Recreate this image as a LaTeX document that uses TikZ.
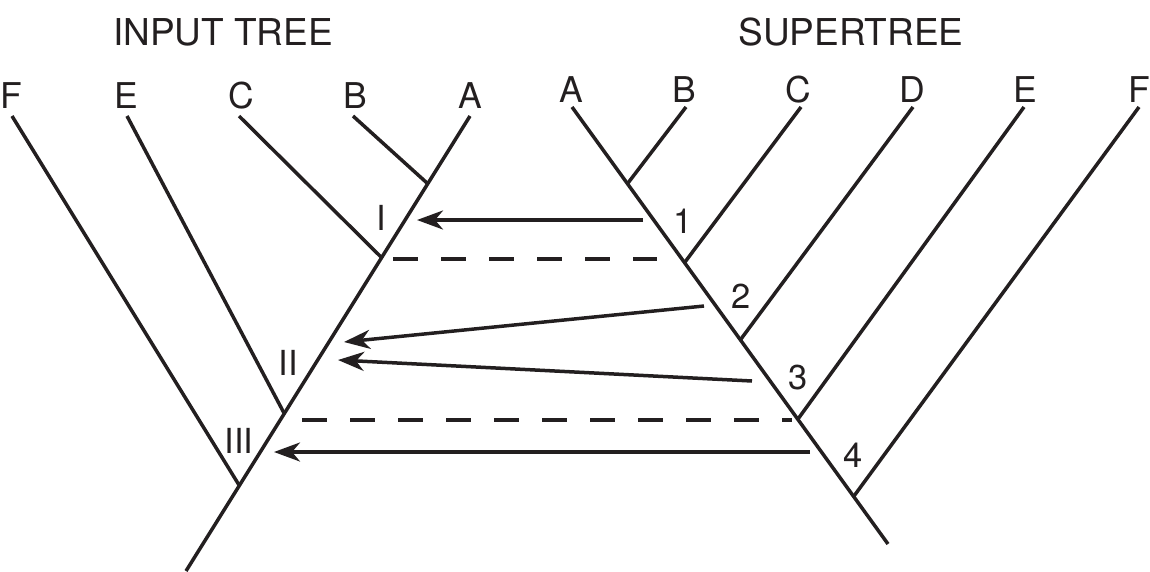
\documentclass[tikz,border=0pt]{standalone}
\usepackage{fontspec}
\setmainfont{TeX Gyre Heros}
\usetikzlibrary{arrows.meta}
\definecolor{ink}{HTML}{231F20}
\begin{document}
\begin{tikzpicture}[x=1pt,y=-1pt,
  branch/.style={line width=3.5pt, draw=ink},
  link/.style={line width=3.5pt, draw=ink, -{Stealth[length=26pt,width=19pt,inset=8pt]}},
  guide/.style={line width=3.5pt, draw=ink, dash pattern=on 25pt off 23pt},
  title/.style={anchor=base, inner sep=0pt, text=ink, font=\fontsize{37}{40}\selectfont},
  leaf/.style={anchor=base, inner sep=0pt, text=ink, font=\fontsize{35.5}{40}\selectfont},
  tag/.style={anchor=base, inner sep=0pt, text=ink, font=\fontsize{34.5}{40}\selectfont}]
\useasboundingbox (0,0) rectangle (1150,571);
% titles
\node[title] (t1) at (223,45) {INPUT TREE};
\node[title] (t2) at (851,45) {SUPERTREE};
% left tree
\coordinate (lroot) at (186,571);
\coordinate (lA) at (470,116);
\coordinate (lB) at (353,116);
\coordinate (lC) at (239,116);
\coordinate (lE) at (127,116);
\coordinate (lF) at (12,116);
\coordinate (ljB) at (427,183);
\coordinate (ljC) at (381,257);
\coordinate (ljE) at (284,413);
\coordinate (ljF) at (239,485);
\draw[branch] (lroot) -- (lA);
\draw[branch] (ljB) -- (lB);
\draw[branch] (ljC) -- (lC);
\draw[branch] (ljE) -- (lE);
\draw[branch] (ljF) -- (lF);
\node[leaf] (LA) at (470,108) {A};
\node[leaf] (LB) at (355,108) {B};
\node[leaf] (LC) at (241,108) {C};
\node[leaf] (LE) at (126,108) {E};
\node[leaf] (LF) at (11,108) {F};
% right tree
\coordinate (rroot) at (888,544);
\coordinate (rA) at (572,107);
\coordinate (rB) at (686,107);
\coordinate (rC) at (801,107);
\coordinate (rD) at (913,107);
\coordinate (rE) at (1024,107);
\coordinate (rF) at (1139,107);
\coordinate (rjB) at (628,183);
\coordinate (rjC) at (685,262);
\coordinate (rjD) at (741,339);
\coordinate (rjE) at (798,419);
\coordinate (rjF) at (854,496);
\draw[branch] (rroot) -- (rA);
\draw[branch] (rjB) -- (rB);
\draw[branch] (rjC) -- (rC);
\draw[branch] (rjD) -- (rD);
\draw[branch] (rjE) -- (rE);
\draw[branch] (rjF) -- (rF);
\node[leaf] (RA) at (571,102) {A};
\node[leaf] (RB) at (684,102) {B};
\node[leaf] (RC) at (798,102) {C};
\node[leaf] (RD) at (912,102) {D};
\node[leaf] (RE) at (1025,102) {E};
\node[leaf] (RF) at (1139,102) {F};
% node labels
\node[tag] (n1) at (683,233) {1};
\node[tag] (n2) at (741,308) {2};
\node[tag] (n3) at (798,389) {3};
\node[tag] (n4) at (853,467) {4};
\node[tag] (nI) at (381,230) {I};
\node[tag] (nII) at (288,375) {II};
\node[tag] (nIII) at (239,453) {III};
% arrows
\coordinate (s1) at (643,220); \coordinate (e1) at (417,220);
\coordinate (s2) at (704,306); \coordinate (e2) at (344,342);
\coordinate (s3) at (752,381); \coordinate (e3) at (338,360);
\coordinate (s4) at (810,452); \coordinate (e4) at (274,452);
\draw[link] (s1) -- (e1);
\draw[link] (s2) -- (e2);
\draw[link] (s3) -- (e3);
\draw[link] (s4) -- (e4);
% dashed guides
\coordinate (g1a) at (393,259); \coordinate (g1b) at (657,259);
\coordinate (g2a) at (302,420); \coordinate (g2b) at (792,420);
\draw[guide] (g1a) -- (g1b);
\draw[guide] (g2a) -- (g2b);
\end{tikzpicture}
\end{document}
